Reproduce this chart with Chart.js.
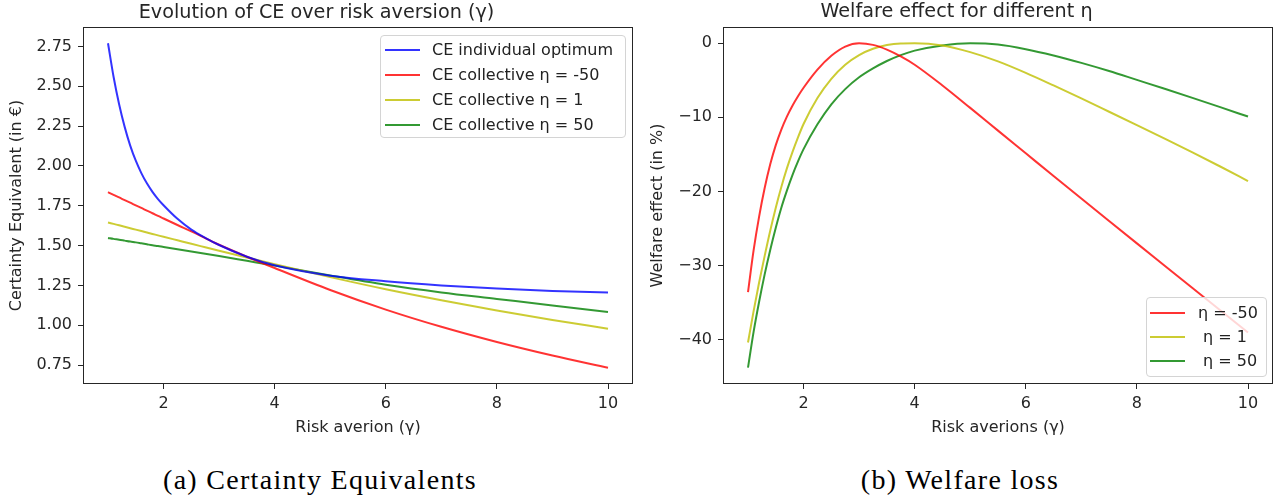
<!DOCTYPE html>
<html><head><meta charset="utf-8">
<script src="https://cdn.jsdelivr.net/npm/chart.js@4.4.0/dist/chart.umd.min.js"></script>
<style>
html,body{margin:0;padding:0;background:#fff;width:1280px;height:501px;overflow:hidden;position:relative;font-family:"DejaVu Sans";}
canvas{position:absolute;top:0;}
.legend{position:absolute;background:rgba(255,255,255,0.8);border:1px solid #d4d4d4;border-radius:4px;box-sizing:border-box;font-family:"DejaVu Sans";font-size:16px;color:#222;}
.sw{position:absolute;height:2px;margin-top:-1px;}
.lbl{position:absolute;white-space:pre;line-height:20px;margin-top:-10px;}
.cap{position:absolute;font-family:"Liberation Serif";font-size:28px;letter-spacing:1.3px;color:#000;transform:translateX(-50%);white-space:nowrap;line-height:28px;}
</style></head>
<body>
<canvas id="c1" width="640" height="440" style="left:0"></canvas>
<canvas id="c2" width="640" height="440" style="left:640px"></canvas>
<div id="leg1" class="legend" style="left:380px;top:35px;width:246px;height:103px"></div>
<div id="leg2" class="legend" style="left:1146px;top:297px;width:121px;height:80px"></div>
<div class="cap" style="left:320px;top:466px">(a) Certainty Equivalents</div>
<div class="cap" style="left:960px;top:466px">(b) Welfare loss</div>
<script>
// ---- Left chart data ----
const gammaCE = [1, 1.1, 1.2, 1.3, 1.4, 1.5, 1.6, 1.7, 1.8, 1.9, 2, 2.25, 2.5, 2.75, 3, 3.5, 4, 5, 6, 7, 8, 9, 10];
const ceIndividual = [2.77, 2.56, 2.3875, 2.245, 2.1275, 2.0325, 1.955, 1.891, 1.8375, 1.792, 1.753, 1.668, 1.6005, 1.5485, 1.5035, 1.43, 1.376, 1.311, 1.276, 1.25, 1.23, 1.215, 1.205];
const ceEtaMinus50 = [1.835, 1.818, 1.802, 1.785, 1.769, 1.752, 1.736, 1.719, 1.703, 1.686, 1.67, 1.629, 1.589, 1.547, 1.505, 1.43, 1.359, 1.221, 1.098, 0.99, 0.8945, 0.8095, 0.7325];
const ceEta1 = [1.645, 1.636, 1.627, 1.618, 1.609, 1.600, 1.591, 1.582, 1.573, 1.564, 1.555, 1.533, 1.511, 1.4895, 1.468, 1.425, 1.383, 1.302, 1.226, 1.157, 1.093, 1.033, 0.978];
const ceEta50 = [1.548, 1.542, 1.537, 1.531, 1.525, 1.520, 1.514, 1.508, 1.502, 1.497, 1.491, 1.477, 1.463, 1.4485, 1.434, 1.404, 1.374, 1.312, 1.254, 1.206, 1.165, 1.124, 1.083];
const ceLabels = ["CE individual optimum", "CE collective \u03b7 = -50", "CE collective \u03b7 = 1", "CE collective \u03b7 = 50"];
const ceXTicks = [2, 4, 6, 8, 10];
const ceYTicks = [0.75, 1.00, 1.25, 1.50, 1.75, 2.00, 2.25, 2.50, 2.75];

// ---- Right chart data ----
const gammaW = [1, 1.1, 1.2, 1.3, 1.4, 1.5, 1.6, 1.7, 1.8, 1.9, 2, 2.25, 2.5, 2.75, 3, 3.25, 3.5, 3.75, 4, 4.5, 5, 5.5, 6, 6.5, 7, 7.5, 8, 8.5, 9, 9.5, 10];
const wEtaMinus50 = [-33.6, -28.0, -23.4, -19.55, -16.35, -13.75, -11.65, -9.9, -8.43, -7.15, -6.01, -3.56, -1.69, -0.45, 0, -0.22, -0.86, -1.78, -2.9, -5.7, -8.73, -11.8, -14.86, -17.92, -20.97, -24.0, -27.02, -30.03, -33.04, -36.05, -39.06];
const wEta1 = [-40.4, -36.2, -32.3, -28.7, -25.3, -22.2, -19.4, -16.9, -14.7, -12.7, -10.9, -7.4, -4.8, -2.9, -1.6, -0.75, -0.25, -0.03, 0, -0.3, -1.2, -2.45, -4.0, -5.7, -7.45, -9.25, -11.06, -12.89, -14.74, -16.64, -18.6];
const wEta50 = [-43.8, -39.0, -34.9, -31.2, -27.9, -24.9, -22.2, -19.9, -17.8, -15.95, -14.3, -10.95, -8.25, -6.2, -4.6, -3.4, -2.4, -1.6, -1.0, -0.3, -0.02, -0.18, -0.8, -1.65, -2.65, -3.75, -4.95, -6.15, -7.38, -8.63, -9.9];
const wLabels = ["\u03b7 = -50", " \u03b7 = 1", " \u03b7 = 50"];
const wXTicks = [2, 4, 6, 8, 10];
const wYTicks = [-40, -30, -20, -10, 0];

const BLUE = 'rgba(0,0,255,0.8)', RED = 'rgba(255,0,0,0.8)', YEL = 'rgba(191,191,0,0.8)', GRN = 'rgba(0,128,0,0.8)';
const TXT = '#262626';
const FONT = "DejaVu Sans";

const framePlugin = {
  id: 'frame',
  afterDatasetsDraw(chart) {
    const {ctx, chartArea: a} = chart;
    ctx.save();
    ctx.strokeStyle = '#262626';
    ctx.lineWidth = 1;
    ctx.strokeRect(Math.round(a.left) + 0.5, Math.round(a.top) + 0.5, Math.round(a.right - a.left) - 1, Math.round(a.bottom - a.top) - 1);
    ctx.restore();
  }
};

function pts(xs, ys) { return xs.map((x, i) => ({x: x, y: ys[i]})); }
function ds(label, xs, ys, color) {
  return {label: label, data: pts(xs, ys), borderColor: color, backgroundColor: color, borderWidth: 2,
    pointRadius: 0, cubicInterpolationMode: 'monotone', fill: false};
}
function makeOpts(cfg) {
  return {
    responsive: false, animation: false,
    layout: {padding: {left: 0, right: 7, top: 0, bottom: 0}},
    plugins: {
      legend: {display: false}, tooltip: {enabled: false},
      title: {display: true, text: cfg.title, color: TXT, font: {family: FONT, size: 19.2, weight: 'normal'},
        padding: {top: cfg.titleTop, bottom: 27 - 23.04 - cfg.titleTop}}
    },
    scales: {
      x: {
        type: 'linear', min: cfg.xmin, max: cfg.xmax,
        afterBuildTicks: s => { s.ticks = cfg.xTicks.map(v => ({value: v})); },
        afterFit: s => { s.height = 56; },
        border: {display: false},
        grid: {drawOnChartArea: false, drawTicks: true, tickLength: 5, tickColor: '#262626'},
        ticks: {color: TXT, font: {family: FONT, size: 16}, padding: 5, maxRotation: 0, callback: v => String(v)},
        title: {display: true, text: cfg.xTitle, color: TXT, font: {family: FONT, size: 16}, padding: {top: 0, bottom: 2.4}}
      },
      y: {
        type: 'linear', min: cfg.ymin, max: cfg.ymax,
        afterBuildTicks: s => { s.ticks = cfg.yTicks.map(v => ({value: v})); },
        afterFit: s => { s.width = 83; },
        border: {display: false},
        grid: {drawOnChartArea: false, drawTicks: true, tickLength: 5, tickColor: '#262626'},
        ticks: {color: TXT, font: {family: FONT, size: 16}, padding: 6, callback: cfg.yFmt},
        title: {display: true, text: cfg.yTitle, color: TXT, font: {family: FONT, size: 16}, padding: {top: cfg.yTitlePad, bottom: 0}}
      }
    }
  };
}

new Chart(document.getElementById('c1'), {
  type: 'line',
  data: {datasets: [
    ds(ceLabels[0], gammaCE, ceIndividual, BLUE),
    ds(ceLabels[1], gammaCE, ceEtaMinus50, RED),
    ds(ceLabels[2], gammaCE, ceEta1, YEL),
    ds(ceLabels[3], gammaCE, ceEta50, GRN)
  ]},
  options: makeOpts({title: 'Evolution of CE over risk aversion (\u03b3)', titleTop: 1,
    xmin: 0.55, xmax: 10.45, ymin: 0.631, ymax: 2.872, xTicks: ceXTicks, yTicks: ceYTicks,
    xTitle: 'Risk averion (\u03b3)', yTitle: 'Certainty Equivalent (in \u20ac)', yTitlePad: 7.4,
    yFmt: v => Number(v).toFixed(2)}),
  plugins: [framePlugin]
});

new Chart(document.getElementById('c2'), {
  type: 'line',
  data: {datasets: [
    ds(wLabels[0], gammaW, wEtaMinus50, RED),
    ds(wLabels[1], gammaW, wEta1, YEL),
    ds(wLabels[2], gammaW, wEta50, GRN)
  ]},
  options: makeOpts({title: 'Welfare effect for different \u03b7', titleTop: 0,
    xmin: 0.55, xmax: 10.45, ymin: -46.0, ymax: 2.19, xTicks: wXTicks, yTicks: wYTicks,
    xTitle: 'Risk averions (\u03b3)', yTitle: 'Welfare effect (in %)', yTitlePad: 8.4,
    yFmt: v => (v < 0 ? '\u2212' + Math.abs(v) : String(v))}),
  plugins: [framePlugin]
});

function buildLegend(el, labels, colors, rows, swLeft, txtLeft) {
  labels.forEach((lab, i) => {
    const s = document.createElement('div');
    s.className = 'sw';
    s.style.cssText += `left:${swLeft}px;width:35px;top:${rows[i]}px;background:${colors[i]};`;
    el.appendChild(s);
    const t = document.createElement('div');
    t.className = 'lbl';
    t.style.cssText += `left:${txtLeft}px;top:${rows[i]}px;`;
    t.textContent = lab;
    el.appendChild(t);
  });
}
buildLegend(document.getElementById('leg1'), ceLabels, [BLUE, RED, YEL, GRN], [14, 39, 64, 88.5], 4, 51);
buildLegend(document.getElementById('leg2'), wLabels, [RED, YEL, GRN], [14.5, 38.8, 63.2], 3, 51);
</script>
</body></html>
